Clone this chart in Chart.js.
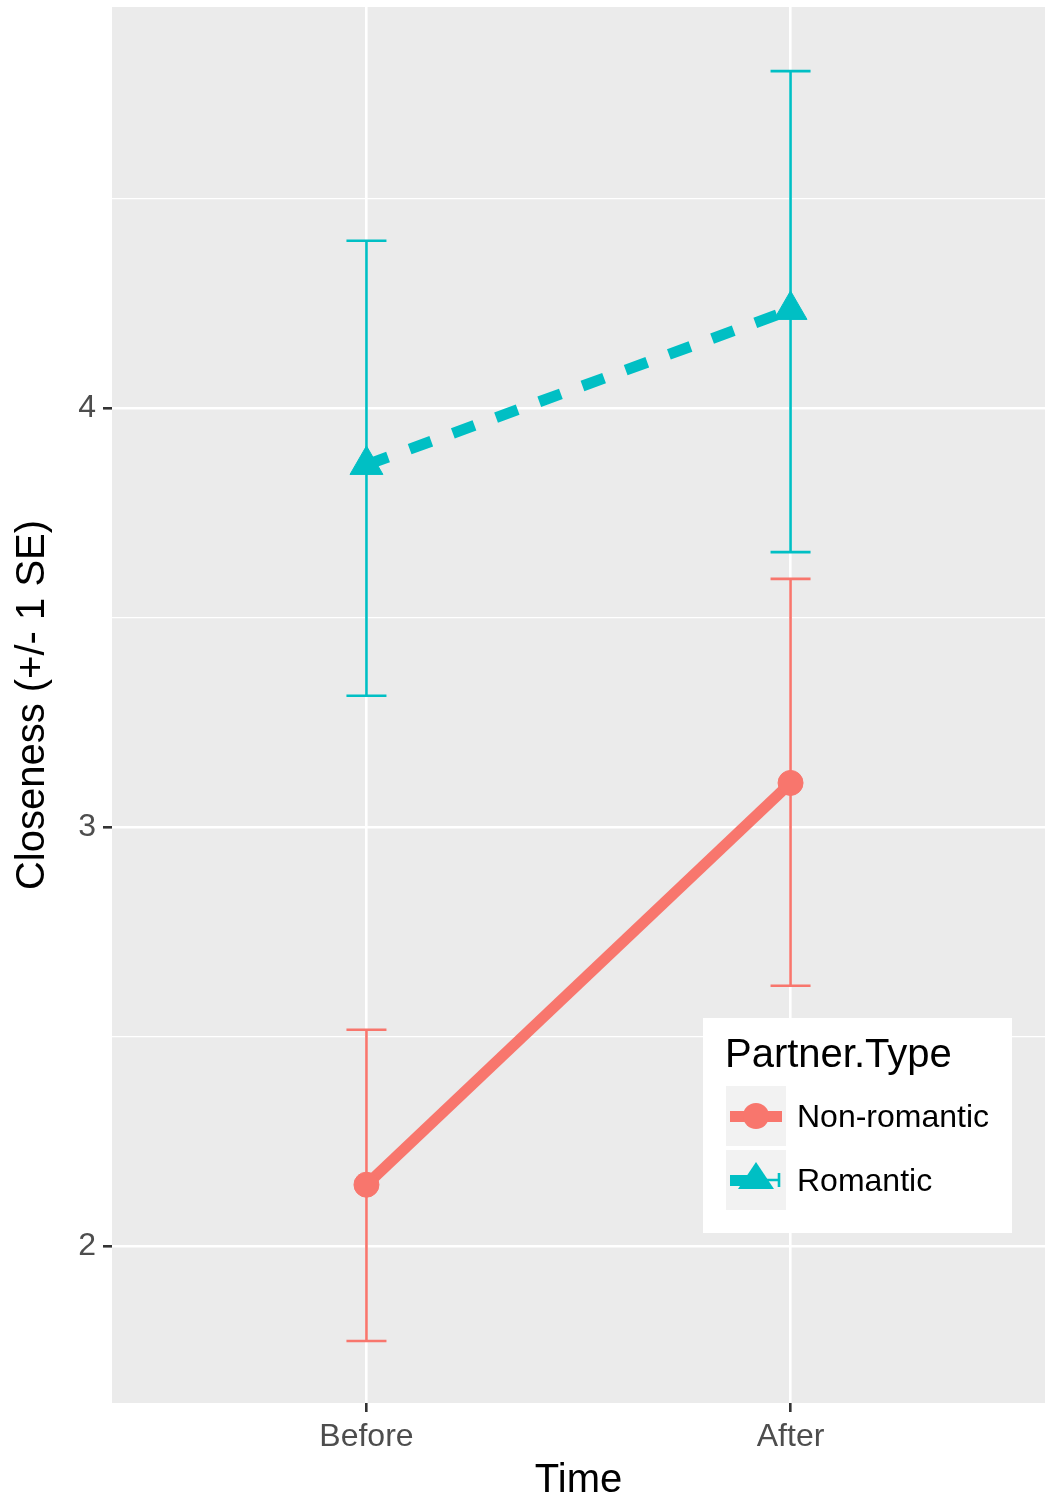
<!DOCTYPE html>
<html lang="en">

<head>
    <meta charset="UTF-8">
    <title>Closeness by Time</title>
    <script src="https://cdn.jsdelivr.net/npm/chart.js"></script>
    <style>
        body { margin: 0; background: #ffffff; }
        #wrap { width: 1049px; height: 1505px; }
    </style>
</head>

<body>
    <div id="wrap">
        <canvas id="closeness" width="1049" height="1505"></canvas>
    </div>
    <script>
        // categories on the x axis (positions 1 and 2)
        const timeLabels = ['Before', 'After'];

        // Non-romantic partner: mean and +/- 1 SE bounds
        const nonRomMean = [2.146, 3.105];
        const nonRomLow = [1.773, 2.621];
        const nonRomHigh = [2.516, 3.592];

        // Romantic partner
        const romMean = [3.864, 4.234];
        const romLow = [3.313, 3.656];
        const romHigh = [4.399, 4.804];

        const yMajorTicks = [2, 3, 4];
        const yMinorTicks = [2.5, 3.5, 4.5];

        const coral = '#F8766D';
        const teal = '#00BFC4';

        const toPoints = (arr) => arr.map((v, i) => ({ x: i + 1, y: v }));

        const errorBars = [
            { color: coral, low: nonRomLow, high: nonRomHigh },
            { color: teal, low: romLow, high: romHigh }
        ];

        // grey panel behind the data
        const panelPlugin = {
            id: 'panel',
            beforeDraw(chart) {
                const { ctx, chartArea } = chart;
                ctx.save();
                ctx.fillStyle = '#ebebeb';
                ctx.fillRect(chartArea.left, chartArea.top, chartArea.right - chartArea.left, chartArea.bottom - chartArea.top);
                ctx.restore();
            }
        };

        // error bars drawn with the chart's scales, under the lines
        const errorBarPlugin = {
            id: 'errorBars',
            beforeDatasetsDraw(chart) {
                const { ctx } = chart;
                const xs = chart.scales.x;
                const ys = chart.scales.y;
                const capHalf = 20;
                ctx.save();
                ctx.lineWidth = 2.6;
                errorBars.forEach(eb => {
                    ctx.strokeStyle = eb.color;
                    eb.low.forEach((lo, i) => {
                        const px = xs.getPixelForValue(i + 1);
                        const pLo = ys.getPixelForValue(lo);
                        const pHi = ys.getPixelForValue(eb.high[i]);
                        ctx.beginPath();
                        ctx.moveTo(px, pLo);
                        ctx.lineTo(px, pHi);
                        ctx.moveTo(px - capHalf, pLo);
                        ctx.lineTo(px + capHalf, pLo);
                        ctx.moveTo(px - capHalf, pHi);
                        ctx.lineTo(px + capHalf, pHi);
                        ctx.stroke();
                    });
                });
                ctx.restore();
            }
        };

        // ggplot-style legend inside the panel
        const legendPlugin = {
            id: 'ggLegend',
            afterDraw(chart) {
                const { ctx } = chart;
                const left = 703, top = 1018;
                ctx.save();
                ctx.fillStyle = '#ffffff';
                ctx.fillRect(left, top, 309, 215);

                ctx.fillStyle = '#000000';
                ctx.font = '40px "Liberation Sans", Arial, sans-serif';
                ctx.textBaseline = 'middle';
                ctx.fillText('Partner.Type', left + 22, top + 38);

                // key backgrounds
                ctx.fillStyle = '#f2f2f2';
                ctx.fillRect(left + 23, top + 68, 60, 60);
                ctx.fillRect(left + 23, top + 132, 60, 60);

                // non-romantic key
                let cy = top + 98;
                ctx.fillStyle = coral;
                ctx.fillRect(left + 27, cy - 5, 52, 11);
                ctx.beginPath();
                ctx.arc(left + 53, cy, 13, 0, Math.PI * 2);
                ctx.fill();

                // romantic key
                cy = top + 162;
                ctx.fillStyle = teal;
                ctx.fillRect(left + 27, cy - 5, 27, 11);
                ctx.beginPath();
                ctx.moveTo(left + 53, cy - 18);
                ctx.lineTo(left + 71, cy + 9);
                ctx.lineTo(left + 35, cy + 9);
                ctx.closePath();
                ctx.fill();
                ctx.strokeStyle = teal;
                ctx.lineWidth = 2.6;
                ctx.beginPath();
                ctx.moveTo(left + 53, cy);
                ctx.lineTo(left + 77, cy);
                ctx.moveTo(left + 76, cy - 7);
                ctx.lineTo(left + 76, cy + 7);
                ctx.stroke();

                ctx.fillStyle = '#000000';
                ctx.font = '32px "Liberation Sans", Arial, sans-serif';
                ctx.fillText('Non-romantic', left + 94, top + 100);
                ctx.fillText('Romantic', left + 94, top + 164);
                ctx.restore();
            }
        };

        const ctx = document.getElementById('closeness').getContext('2d');
        const chart = new Chart(ctx, {
            type: 'line',
            data: {
                datasets: [
                    {
                        label: 'Non-romantic',
                        data: toPoints(nonRomMean),
                        borderColor: coral,
                        backgroundColor: coral,
                        borderWidth: 11,
                        borderCapStyle: 'butt',
                        pointStyle: 'circle',
                        pointRadius: 12.5,
                        pointBorderWidth: 1,
                        pointBackgroundColor: coral,
                        pointBorderColor: coral
                    },
                    {
                        label: 'Romantic',
                        data: toPoints(romMean),
                        borderColor: teal,
                        backgroundColor: teal,
                        borderWidth: 11,
                        borderDash: [23, 23],
                        borderCapStyle: 'butt',
                        pointStyle: 'triangle',
                        pointRadius: 19,
                        pointBorderWidth: 1,
                        pointBackgroundColor: teal,
                        pointBorderColor: teal
                    }
                ]
            },
            options: {
                responsive: false,
                animation: false,
                devicePixelRatio: 1,
                layout: { autoPadding: false, padding: { top: 7, right: 4, left: 0, bottom: 0 } },
                plugins: {
                    legend: { display: false },
                    tooltip: { enabled: false }
                },
                scales: {
                    x: {
                        type: 'linear',
                        min: 0.4,
                        max: 2.6,
                        afterBuildTicks: (scale) => {
                            scale.ticks = timeLabels.map((_, i) => ({ value: i + 1 }));
                        },
                        afterFit: (scale) => {
                            scale.height = 102;
                            scale.paddingLeft = 0;
                            scale.paddingRight = 0;
                        },
                        ticks: {
                            callback: (value) => timeLabels[value - 1] || '',
                            color: '#4d4d4d',
                            font: { size: 32, family: '"Liberation Sans", Arial, sans-serif' },
                            padding: 6,
                            maxRotation: 0,
                            autoSkip: false
                        },
                        grid: {
                            color: '#ffffff',
                            lineWidth: 2.6,
                            tickColor: '#333333',
                            tickLength: 9,
                            tickWidth: 2.6
                        },
                        border: { display: false },
                        title: {
                            display: true,
                            text: 'Time',
                            color: '#000000',
                            font: { size: 40, family: '"Liberation Sans", Arial, sans-serif' },
                            padding: { top: 0, bottom: 0 }
                        }
                    },
                    y: {
                        type: 'linear',
                        min: 1.625,
                        max: 4.957,
                        afterBuildTicks: (scale) => {
                            scale.ticks = yMajorTicks.concat(yMinorTicks).sort().map(v => ({ value: v }));
                        },
                        afterFit: (scale) => {
                            scale.width = 112;
                            scale.paddingTop = 0;
                            scale.paddingBottom = 0;
                        },
                        ticks: {
                            callback: (value) => yMajorTicks.includes(value) ? String(value) : '',
                            color: '#4d4d4d',
                            font: { size: 32, family: '"Liberation Sans", Arial, sans-serif' },
                            padding: 7,
                            autoSkip: false
                        },
                        grid: {
                            color: '#ffffff',
                            lineWidth: (c) => yMajorTicks.includes(c.tick && c.tick.value) ? 2.6 : 1.3,
                            tickColor: (c) => yMajorTicks.includes(c.tick && c.tick.value) ? '#333333' : 'rgba(0,0,0,0)',
                            tickLength: 9,
                            tickWidth: 2.6
                        },
                        border: { display: false },
                        title: {
                            display: true,
                            text: 'Closeness (+/- 1 SE)',
                            color: '#000000',
                            font: { size: 40, family: '"Liberation Sans", Arial, sans-serif' },
                            padding: { top: 9, bottom: 0 }
                        }
                    }
                }
            },
            plugins: [panelPlugin, errorBarPlugin, legendPlugin]
        });
    </script>
</body>

</html>
